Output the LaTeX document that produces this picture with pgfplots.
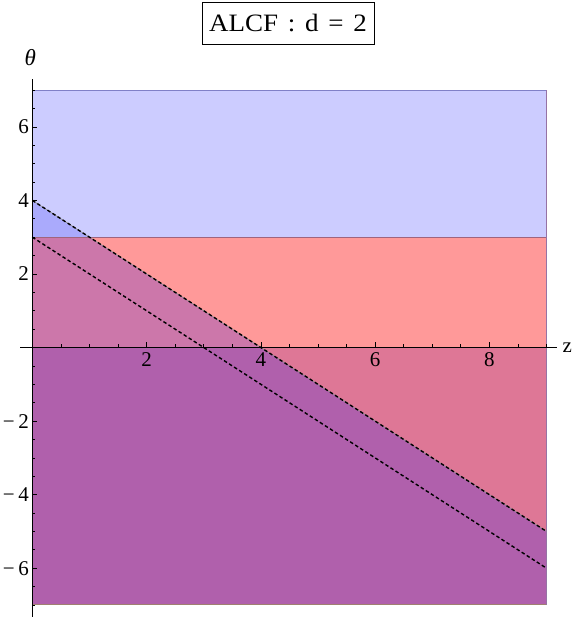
\documentclass[border=0pt]{standalone}
\usepackage{pgfplots}
\pgfplotsset{compat=1.18}
\usepackage{fontspec}
\setmainfont{Liberation Serif}
\definecolor{lblue}{RGB}{204,204,255}
\definecolor{mblue}{RGB}{170,170,252}
\definecolor{lpink}{RGB}{255,153,153}
\definecolor{mauve}{RGB}{204,119,170}
\definecolor{rose}{RGB}{222,119,150}
\definecolor{purp}{RGB}{176,96,172}
\begin{document}
\begin{tikzpicture}
\begin{axis}[
  scale only axis, width=536.7pt, height=537.7pt,
  xmin=-0.215, xmax=9.18, ymin=-7.33, ymax=7.29,
  enlargelimits=false,
  axis lines=middle, axis line style={-, line width=0.8pt},
  axis on top,
  xtick={2,4,6,8}, ytick={-6,-4,-2,2,4,6},
  xticklabels={2,4,6,8},
  yticklabels={−\,6,−\,4,−\,2,2,4,6},
  minor xtick={0.5,1,...,9}, minor ytick={-7,-6.5,...,7},
  tick align=inside,
  major tick length=5pt, minor tick length=3pt,
  every tick/.append style={black, line width=0.6pt},
  tick label style={font=\fontsize{21}{21}\selectfont},
  xticklabel style={yshift=-1.5pt},
  clip=false,
]
\addplot[draw=none, fill=lblue] coordinates {(0,4) (1,3) (9,3) (9,7) (0,7)} --cycle;
\addplot[draw=none, fill=mblue] coordinates {(0,3) (1,3) (0,4)} --cycle;
\addplot[draw=none, fill=lpink] coordinates {(1,3) (9,3) (9,0) (4,0)} --cycle;
\addplot[draw=none, fill=mauve] coordinates {(0,0) (4,0) (1,3) (0,3)} --cycle;
\addplot[draw=none, fill=rose] coordinates {(4,0) (9,0) (9,-5)} --cycle;
\addplot[draw=none, fill=purp] coordinates {(0,0) (4,0) (9,-5) (9,-7) (0,-7)} --cycle;
% region boundaries
\addplot[color={rgb,255:red,128;green,128;blue,200}, line width=0.7pt] coordinates {(0,7) (9,7)};
\addplot[color={rgb,255:red,160;green,100;blue,125}, line width=0.7pt] coordinates {(0,3) (9,3)};
\addplot[color={rgb,255:red,160;green,128;blue,112}, line width=1pt] coordinates {(0,-7) (9,-7)};
\addplot[color={rgb,255:red,150;green,115;blue,165}, line width=0.7pt] coordinates {(9,-7) (9,7)};
\addplot[color={rgb,255:red,140;green,140;blue,140}, line width=0.6pt] coordinates {(0,4) (9,-5)};
% dashed lines
\addplot[black, line width=1.4pt, dash pattern=on 3.5pt off 2.5pt] coordinates {(0,4) (9,-5)};
\addplot[black, line width=1.4pt, dash pattern=on 3.5pt off 2.5pt] coordinates {(0,3) (9,-6)};
\coordinate (O) at (axis cs:0,0);
\end{axis}
\node[font=\fontsize{23}{23}\selectfont\itshape] at ([shift={(-2pt,289.5pt)}]O) {θ};
\node[font=\fontsize{21}{21}\selectfont] at ([shift={(535pt,0pt)}]O) {z};
\node[draw, line width=0.8pt, minimum width=172pt, minimum height=42pt, inner sep=0pt,
      font=\fontsize{25}{25}\selectfont] at ([shift={(255.7pt,324.5pt)}]O)
      {\scalebox{1.08}[1]{ALCF\hspace{0.36em}:\hspace{0.36em}d\hspace{0.36em}=\hspace{0.36em}2}};
\pgfresetboundingbox
\path ([shift={(-32.3pt,-269.5pt)}]O) rectangle ([shift={(543.7pt,347.5pt)}]O);
\end{tikzpicture}
\end{document}
